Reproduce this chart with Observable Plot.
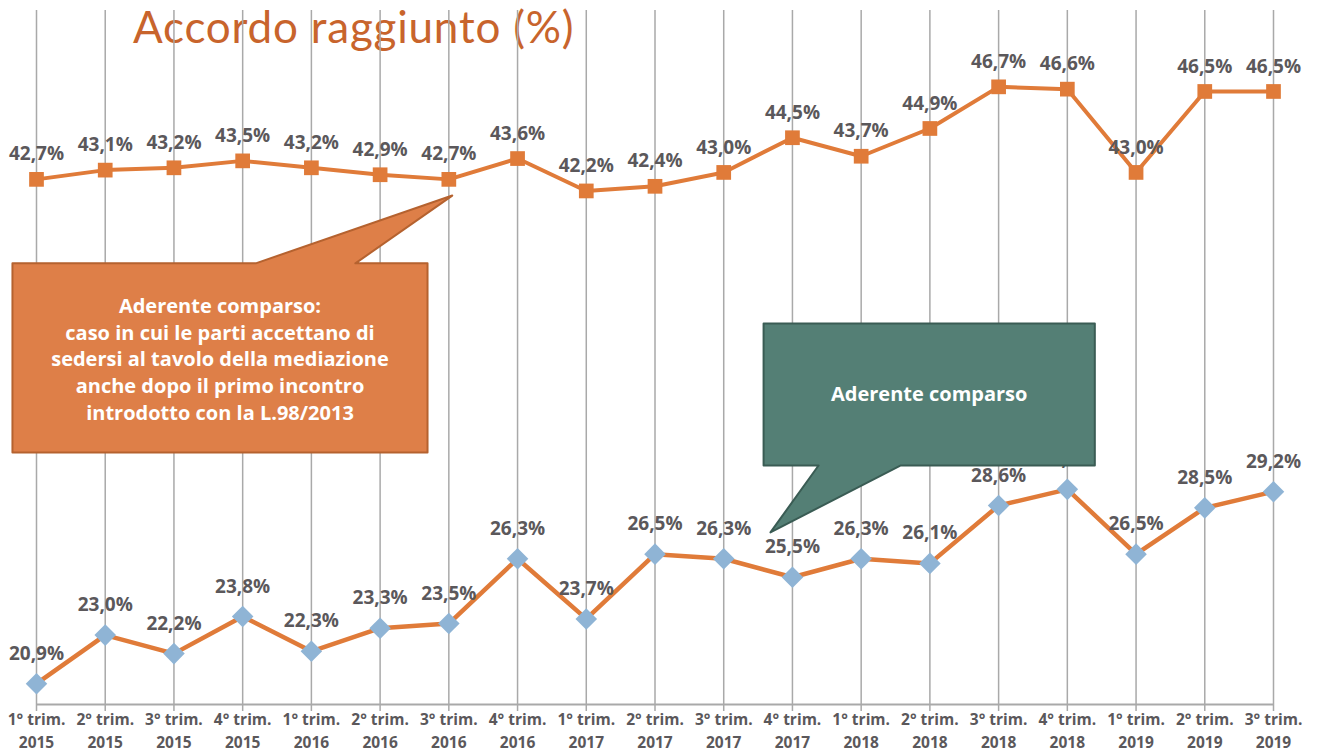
<!DOCTYPE html>
<html><head><meta charset="utf-8">
<script src="https://cdn.jsdelivr.net/npm/d3@7"></script>
<script src="https://cdn.jsdelivr.net/npm/@observablehq/plot@0.6"></script>
<style>
body{margin:0;background:#fff;}
#wrap{position:relative;width:1317px;height:754px;overflow:hidden;background:#fff;}
#title{position:absolute;left:133px;top:0px;font-family:Lato,sans-serif;font-size:44px;line-height:normal;color:#C8642C;white-space:nowrap;letter-spacing:0.8px;}
</style></head><body>
<div id="wrap"></div>
<script>
// ---- data ----
const quarters = ["1° trim.","2° trim.","3° trim.","4° trim.","1° trim.","2° trim.","3° trim.","4° trim.","1° trim.","2° trim.","3° trim.","4° trim.","1° trim.","2° trim.","3° trim.","4° trim.","1° trim.","2° trim.","3° trim."];
const years = ["2015","2015","2015","2015","2016","2016","2016","2016","2017","2017","2017","2017","2018","2018","2018","2018","2019","2019","2019"];
const accordo = [42.7,43.1,43.2,43.5,43.2,42.9,42.7,43.6,42.2,42.4,43.0,44.5,43.7,44.9,46.7,46.6,43.0,46.5,46.5];
const aderente = [20.9,23.0,22.2,23.8,22.3,23.3,23.5,26.3,23.7,26.5,26.3,25.5,26.3,26.1,28.6,29.3,26.5,28.5,29.2];
const chartTitle = "Accordo raggiunto (%)";
const noteOrange = ["Aderente comparso:","caso in cui le parti accettano di","sedersi al tavolo della mediazione","anche dopo il primo incontro","introdotto con la L.98/2013"];
const noteGreen = ["Aderente comparso"];

const idx = quarters.map((_, i) => i);
const fmt = v => v.toFixed(1).replace(".", ",") + "%";
const seriesTop = idx.map(i => ({i, v: accordo[i]}));
const seriesBot = idx.map(i => ({i, v: aderente[i]}));

// callout shapes in data units (x = quarter index, y = percent)
const calloutOrange = [[-0.35,39.07],[3.19,39.07],[6.05,42.0],[4.64,39.07],[5.69,39.07],[5.69,30.89],[-0.35,30.89],[-0.35,39.07]].map(([x,y])=>({x,y}));
const calloutGreen = [[10.58,36.47],[15.40,36.47],[15.40,30.33],[12.57,30.33],[10.68,27.44],[11.38,30.33],[10.58,30.33],[10.58,36.47]].map(([x,y])=>({x,y}));

const FONT = "'Open Sans', sans-serif";
const gray = "#5b585b";

const chart = Plot.plot({
  width: 1317,
  height: 754,
  marginTop: 10,
  marginBottom: 50,
  marginLeft: 36,
  marginRight: 44,
  style: {fontFamily: FONT, background: "transparent"},
  x: {type: "linear", domain: [0, 18], axis: null},
  y: {type: "linear", domain: [20, 50], axis: null},
  marks: [
    Plot.ruleX(idx, {x: d => d, y1: 20, y2: 50, insetTop: 7, stroke: "#a9a9a9", strokeWidth: 1.5}),
    Plot.ruleY([20], {stroke: "#a9a9a9", strokeWidth: 2}),
    Plot.text(idx, {x: d => d, text: i => quarters[i], frameAnchor: "bottom", dy: 20, fill: gray, fontWeight: "bold", fontSize: 15.5}),
    Plot.text(idx, {x: d => d, text: i => years[i], frameAnchor: "bottom", dy: 43, fill: gray, fontWeight: "bold", fontSize: 15.5}),
    Plot.line(seriesTop, {x: "i", y: "v", stroke: "#E07B39", strokeWidth: 4}),
    Plot.line(seriesBot, {x: "i", y: "v", stroke: "#E07B39", strokeWidth: 4.5}),
    Plot.dot(seriesTop, {x: "i", y: "v", symbol: "square", r: 8.3, fill: "#E07B39", stroke: null}),
    Plot.dot(seriesBot, {x: "i", y: "v", symbol: "square", r: 8.6, rotate: 45, fill: "#8FB4D5", stroke: null}),
    Plot.text(seriesTop, {x: "i", y: "v", text: d => fmt(d.v), dy: -25, fill: gray, fontWeight: "bold", fontSize: 19}),
    Plot.text(seriesBot, {x: "i", y: "v", text: d => fmt(d.v), dy: -30, fill: gray, fontWeight: "bold", fontSize: 19}),
    Plot.line(calloutOrange, {x: "x", y: "y", fill: "#DE7F48", stroke: "#B5622F", strokeWidth: 2, curve: "linear-closed"}),
    Plot.line(calloutGreen, {x: "x", y: "y", fill: "#547F75", stroke: "#3A5C54", strokeWidth: 2, curve: "linear-closed"}),
    Plot.text([noteOrange.join("\n")], {x: 2.67, y: 34.98, text: d => d, fill: "#fff", fontWeight: "bold", fontSize: 20, lineHeight: 1.33}),
    Plot.text(noteGreen, {x: 12.99, y: 33.40, text: d => d, fill: "#fff", fontWeight: "bold", fontSize: 20})
  ]
});
chart.style.position = "absolute";
chart.style.left = "0px";
chart.style.top = "0px";
const wrap = document.getElementById("wrap");
const t = document.createElement("div");
t.id = "title";
t.textContent = chartTitle;
wrap.appendChild(t);
wrap.appendChild(chart);
</script>
</body></html>
